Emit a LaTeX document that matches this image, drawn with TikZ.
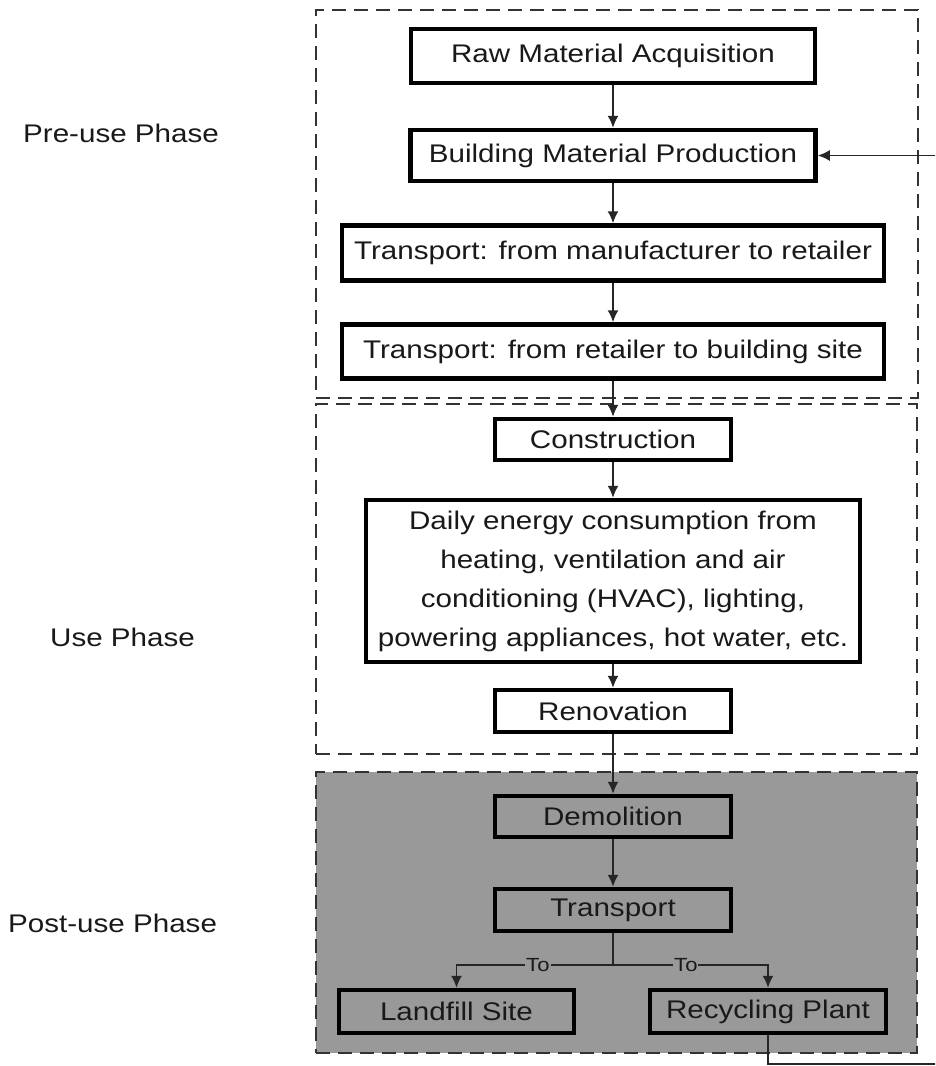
\documentclass[tikz,border=0pt]{standalone}
\usepackage{fontspec}
\setmainfont{Liberation Sans}[FakeStretch=1.16]
\usetikzlibrary{arrows.meta}
\definecolor{postgrey}{RGB}{153,153,153}
\definecolor{txt}{RGB}{25,25,25}
\tikzset{
  stepbox/.style={draw=black, line width=4.5pt, fill=white, inner sep=0pt, align=center, text=txt, font=\fontsize{25.5}{39}\selectfont},
  greybox/.style={stepbox, fill=postgrey},
  phasebox/.style={draw=black!80, line width=1.8pt, dash pattern=on 14pt off 8pt, inner sep=0pt},
  phaselabel/.style={anchor=west, inner sep=0pt, text=txt, font=\fontsize{25.5}{30}\selectfont},
  arr/.style={draw=black!85, line width=1.6pt, -{Latex[length=12pt,width=11pt]}},
  conn/.style={draw=black!85, line width=1.6pt},
  tolabel/.style={fill=postgrey, inner sep=1pt, text=txt, font=\fontsize{19}{22}\selectfont}
}
\begin{document}
\begin{tikzpicture}[x=1pt, y=-1pt]
\useasboundingbox (0,0) rectangle (935,1066);
\clip (0,0) rectangle (935,1066);
% phase frames
\node[phasebox, fill=postgrey, minimum width=601pt, minimum height=281pt] (post) at (616.5,912.5) {};
\node[phasebox, minimum width=602pt, minimum height=388pt] (pre) at (617,204) {};
\node[phasebox, minimum width=601pt, minimum height=350pt] (use) at (616.5,579) {};
% phase labels
\node[phaselabel] (lpre) at (23,133) {Pre-use Phase};
\node[phaselabel] (luse) at (50,637) {Use Phase};
\node[phaselabel] (lpost) at (8,923) {Post-use Phase};
% steps
\node[stepbox, minimum width=404pt, minimum height=54pt] (raw) at (613,56) {Raw Material Acquisition};
\node[stepbox, minimum width=405pt, minimum height=51pt] (bmp) at (613,155.5) {Building Material Production};
\node[stepbox, minimum width=542pt, minimum height=55pt] (t1) at (613,253) {Transport: from manufacturer to retailer};
\node[stepbox, minimum width=542pt, minimum height=54pt] (t2) at (613,351.5) {Transport: from retailer to building site};
\node[stepbox, minimum width=236pt, minimum height=41pt] (con) at (613,439.5) {Construction};
\node[stepbox, minimum width=494pt, minimum height=162pt] (daily) at (613,581) {Daily energy consumption from\\heating, ventilation and air\\conditioning (HVAC), lighting,\\powering appliances, hot water, etc.};
\node[stepbox, minimum width=236pt, minimum height=42pt] (ren) at (613,711) {Renovation};
\node[greybox, minimum width=236pt, minimum height=41pt] (dem) at (613,816.5) {Demolition};
\node[greybox, minimum width=236pt, minimum height=42pt] (tp) at (613,910) {Transport};
\node[greybox, minimum width=235pt, minimum height=43pt] (land) at (456.5,1011.5) {Landfill Site};
\node[greybox, minimum width=236pt, minimum height=43pt] (rec) at (768,1011.5) {Recycling Plant};
% connectors
\draw[arr] (raw) -- (bmp);
\draw[arr] (bmp) -- (t1);
\draw[arr] (t1) -- (t2);
\draw[arr] (t2) -- (con);
\draw[arr] (con) -- (daily);
\draw[arr] (daily) -- (ren);
\draw[arr] (ren) -- (dem);
\draw[arr] (dem) -- (tp);
\coordinate (branch) at (613,965);
\draw[conn] (tp.south) -- (branch);
\draw[arr] (branch) -| node[tolabel, pos=0.24] (to1) {To} (land.north);
\draw[arr] (branch) -| node[tolabel, pos=0.235] (to2) {To} (rec.north);
% feedback loop (runs off the right edge)
\coordinate (fbA) at (950,1064);
\draw[arr] (rec.south) |- (fbA) |- (bmp.east);
\end{tikzpicture}
\end{document}
